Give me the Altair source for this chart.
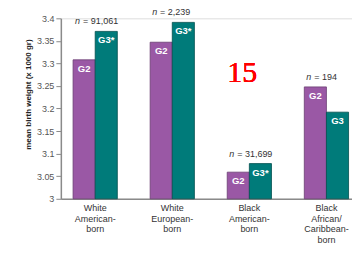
import altair as alt
import pandas as pd

categories = ["White|American-|born", "White|European-|born",
              "Black|American-|born", "Black|African/|Caribbean-|born"]
g2_values = [3.308, 3.347, 3.059, 3.248]
g3_values = [3.371, 3.391, 3.078, 3.192]
g2_labels = ["G2", "G2", "G2", "G2"]
g3_labels = ["G3*", "G3*", "G3*", "G3"]
n_labels = ["= 91,061", "= 2,239", "= 31,699", "= 194"]
y_ticks = [3, 3.05, 3.1, 3.15, 3.2, 3.25, 3.3, 3.35, 3.4]

rows = []
for c, a, b, la, lb in zip(categories, g2_values, g3_values, g2_labels, g3_labels):
    rows.append({"cat": c, "gen": "G2", "val": a, "lab": la})
    rows.append({"cat": c, "gen": "G3", "val": b, "lab": lb})
df = pd.DataFrame(rows)

ndf = pd.DataFrame({"cat": categories, "n": n_labels,
                    "top": [max(a, b) for a, b in zip(g2_values, g3_values)]})

FONT = "Liberation Sans"

xscale = alt.Scale(domain=categories, paddingInner=0.426, paddingOuter=0.1017, align=0.78)
yscale = alt.Scale(domain=[3, 3.4], zero=False, nice=False)

x = alt.X("cat:N", scale=xscale, sort=categories,
          axis=alt.Axis(title=None, labelAngle=0, ticks=False, domainColor="#8a8a8a",
                        domainWidth=1.5, labelExpr="split(datum.label, '|')",
                        labelFont=FONT, labelFontSize=9, labelColor="#333333",
                        labelLineHeight=10.5, labelPadding=5))
label_expr = ("round(datum.value * 100) % 10 == 0 ? "
              "(round(datum.value * 10) % 10 == 0 ? format(datum.value, '.0f') : format(datum.value, '.1f')) "
              ": format(datum.value, '.2f')")
y = alt.Y("val:Q", scale=yscale,
          axis=alt.Axis(title="mean birth weight (x 1000 gr)",
                        values=y_ticks, tickCount=9, labelExpr=label_expr,
                        grid=False, domainColor="#8a8a8a", domainWidth=1.5,
                        tickColor="#8a8a8a", tickSize=5, tickWidth=1,
                        labelOverlap=False, labelFlush=False,
                        labelFont=FONT, labelFontSize=9, labelColor="#555555", labelPadding=2,
                        titleFont=FONT, titleFontSize=8, titleFontWeight="bold",
                        titleColor="#222222", titleX=-28, titleY=76))

color = alt.Color("gen:N", scale=alt.Scale(domain=["G2", "G3"], range=["#9a58a5", "#007b7a"]),
                  legend=None)
stroke = alt.Stroke("gen:N", scale=alt.Scale(domain=["G2", "G3"], range=["#6a3d72", "#004f4e"]),
                    legend=None)
xoff = alt.XOffset("gen:N", scale=alt.Scale(paddingInner=0, paddingOuter=0))

bars = alt.Chart(df).mark_bar(strokeWidth=0.8).encode(
    x=x, y=y, y2=alt.datum(3), color=color, stroke=stroke, xOffset=xoff)

barlabels = alt.Chart(df).mark_text(font=FONT, fontSize=9.5, fontWeight="bold", color="white",
                                    baseline="top", dy=4).encode(
    x=alt.X("cat:N", scale=xscale, sort=categories), y=alt.Y("val:Q", scale=yscale),
    xOffset=xoff, text="lab:N")

n_italic = alt.Chart(ndf).mark_text(font=FONT, fontSize=9, fontStyle="italic", color="#333333",
                                    align="left", baseline="alphabetic", dx=2, dy=-7).encode(
    x=alt.X("cat:N", scale=xscale, sort=categories, bandPosition=0),
    y=alt.Y("top:Q", scale=yscale), text=alt.value("n"))
n_text = alt.Chart(ndf).mark_text(font=FONT, fontSize=9, color="#333333",
                                  align="left", baseline="alphabetic", dx=10, dy=-7).encode(
    x=alt.X("cat:N", scale=xscale, sort=categories, bandPosition=0),
    y=alt.Y("top:Q", scale=yscale), text="n:N")

fifteen = alt.Chart(ndf).mark_text(text="15", font="Liberation Serif", fontSize=30,
                                   color="#ff0000", align="center", baseline="middle").encode(
    x=alt.value(182), y=alt.value(55))

chart = alt.layer(bars, barlabels, n_italic, n_text, fifteen).properties(
    width=292, height=181,
    padding={"left": 17, "top": 0, "right": 0, "bottom": 0},
).configure_view(stroke=None).configure(background="white")

chart.save("out.html", embed_options={"renderer": "svg", "actions": False})
